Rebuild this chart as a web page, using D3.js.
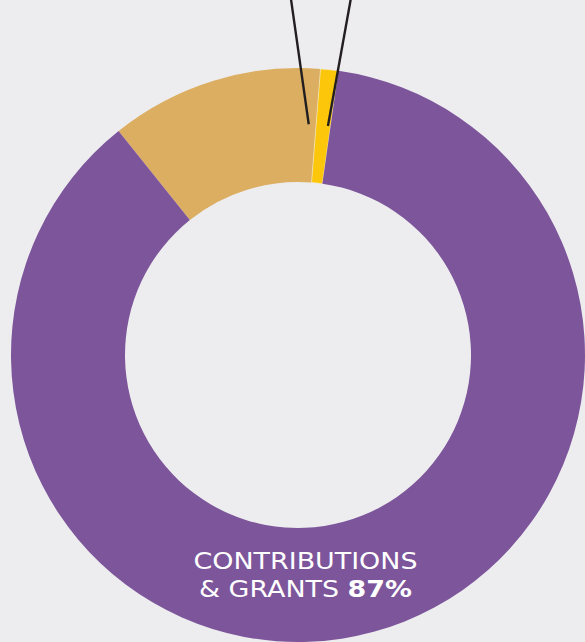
<!DOCTYPE html>
<html><head><meta charset="utf-8">
<script src="https://cdn.jsdelivr.net/npm/d3@7"></script>
<style>html,body{margin:0;padding:0;background:#ededef;overflow:hidden}</style>
</head><body>
<svg id="c" width="585" height="642"></svg>
<script>
const categories = ["Contributions & Grants", "Other revenue", "Other income"];
const values = [87, 12, 1];
const colors = ["#7d559b", "#dcae62", "#fcc70a"];
const labelLines = ["CONTRIBUTIONS", "& GRANTS "];
const labelPct = "87%";

const W = 585, H = 642, cx = 298, cy = 355, rOuter = 287, rInner = 173;
const svg = d3.select("#c");
svg.append("rect").attr("width", W).attr("height", H).attr("fill", "#ededef");
const g = svg.append("g").attr("transform", `translate(${cx},${cy})`);

const pie = d3.pie().sort(null).value(d => d.v)
  .startAngle(-38.7 * Math.PI / 180).endAngle((360 - 38.7) * Math.PI / 180);
const data = categories.map((c, i) => ({c, v: values[i], col: colors[i]}));
// order around the circle clockwise from tan start: tan, yellow, purple
const order = [1, 2, 0];
const arcs = pie(order.map(i => data[i]));
const arc = d3.arc().innerRadius(rInner).outerRadius(rOuter);
g.selectAll("path").data(arcs).join("path")
  .attr("d", arc).attr("fill", d => d.data.col)
  .attr("stroke", d => d.data.col === "#fcc70a" ? "#f3e9cf" : "none")
  .attr("stroke-width", 0.6);

// leader lines towards the small slices
const rMid = (rInner + rOuter) / 2 + 1;
const tanArc = arcs[0], yelArc = arcs[1];
const leaders = [
  {a: tanArc.endAngle - 0.032, top: -0.142},
  {a: (yelArc.startAngle + yelArc.endAngle) / 2 + 0.02, top: 0.18}
];
g.selectAll("line.lead").data(leaders).join("line").attr("class", "lead")
  .attr("x1", d => rMid * Math.sin(d.a)).attr("y1", d => -rMid * Math.cos(d.a))
  .attr("x2", d => rMid * Math.sin(d.a) + d.top * (cy + 5 - rMid * Math.cos(d.a)))
  .attr("y2", -cy - 5)
  .attr("stroke", "#231f20").attr("stroke-width", 2.4);

const sx = 1.17;
const t = g.append("text").attr("text-anchor", "middle")
  .attr("transform", `scale(${sx},1)`)
  .attr("font-family", "'DejaVu Sans', sans-serif").attr("font-size", 23)
  .attr("fill", "#fff");
t.append("tspan").attr("x", 7.5 / sx).attr("y", 569 - cy).text(labelLines[0]);
const t2 = t.append("tspan").attr("x", 7.5 / sx).attr("y", 597 - cy);
t2.text(labelLines[1]);
t.append("tspan").attr("font-weight", "bold").text(labelPct);
</script>
</body></html>
